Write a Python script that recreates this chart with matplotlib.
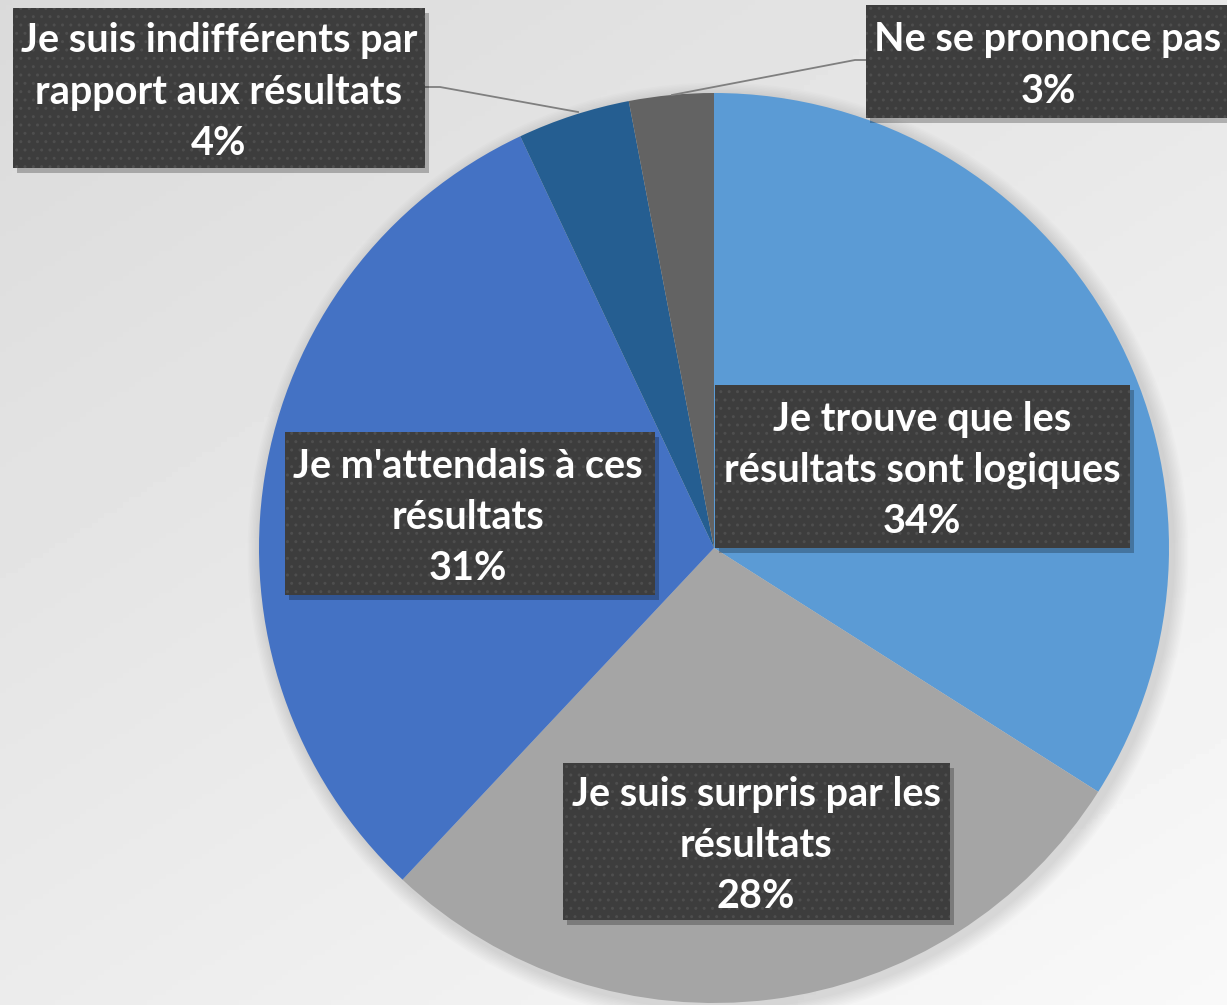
import numpy as np
import matplotlib
matplotlib.use("Agg")
import matplotlib.pyplot as plt
from matplotlib.patches import Rectangle, Circle

# données du sondage
categories = ["Je trouve que les\nrésultats sont logiques",
              "Je suis surpris par les\nrésultats",
              "Je m'attendais à ces\nrésultats",
              "Je suis indifférents par\nrapport aux résultats",
              "Ne se prononce pas"]
valeurs = [34, 28, 31, 4, 3]
couleurs = ["#5B9BD5", "#A5A5A5", "#4472C4", "#255E91", "#636363"]

plt.rcParams["hatch.linewidth"] = 1.0

W, H = 1227, 1005
fig = plt.figure(figsize=(W / 100, H / 100), dpi=100)
ax = fig.add_axes([0, 0, 1, 1])

# fond dégradé gris clair
xx, yy = np.meshgrid(np.linspace(0, 1, 200), np.linspace(0, 1, 200))
t = np.clip(((1 - xx) * 0.6 + (1 - yy) * 0.8) / 1.4, 0, 1)
fond = 0.975 - 0.12 * t
ax.imshow(fond, extent=[0, W, 0, H], origin="upper", cmap="gray",
          vmin=0, vmax=1, zorder=0, aspect="auto")

cx, cy, r = 714, H - 548, 455

# ombre légère du camembert
for k in range(10):
    ax.add_patch(Circle((cx + 4, cy - 5), r + 2 + k * 1.5, color="black",
                        alpha=0.012, lw=0, zorder=1))

ax.pie(valeurs, colors=couleurs, startangle=90, counterclock=False,
       center=(cx, cy), radius=r, wedgeprops=dict(linewidth=0),
       frame=True)
ax.set_xlim(0, W)
ax.set_ylim(0, H)
ax.axis("off")
ax.set_aspect("auto")

# boîtes d'étiquettes (x0, y0 haut, x1, y1 bas) en pixels
boites = [(715, 385, 1130, 548),
          (563, 763, 950, 920),
          (285, 432, 655, 595),
          (13, 8, 425, 168),
          (866, 5, 1240, 118)]
centres_x = [922, 756, 468, 219, 1048]

for i, (cat, v) in enumerate(zip(categories, valeurs)):
    x0, y0, x1, y1 = boites[i]
    # ombre
    ax.add_patch(Rectangle((x0 + 4, H - y1 - 5), x1 - x0, y1 - y0,
                           facecolor="black", alpha=0.25, lw=0, zorder=4))
    ax.add_patch(Rectangle((x0, H - y1), x1 - x0, y1 - y0,
                           facecolor="#3D3D3D", lw=0, zorder=5))
    ax.add_patch(Rectangle((x0, H - y1), x1 - x0, y1 - y0, fill=False,
                           hatch="..", edgecolor="#4E4E4E", lw=0, zorder=6))
    ax.text(centres_x[i], H - (y0 + y1) / 2 - 4, f"{cat}\n{v}%",
            ha="center", va="center", color="white", fontsize=28.5,
            fontweight="bold", family="Lato", linespacing=1.47, zorder=7)

# lignes de rappel
ax.plot([425, 440, 578], [H - 87, H - 87, H - 112], color="#7F7F7F",
        lw=1.3, zorder=3)
ax.plot([866, 855, 672], [H - 60, H - 60, H - 95], color="#7F7F7F",
        lw=1.3, zorder=3)

fig.savefig("out.png", dpi=100)
